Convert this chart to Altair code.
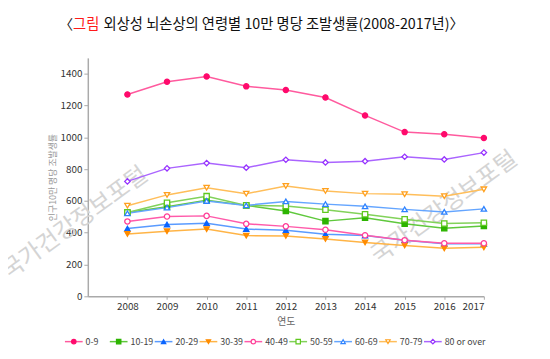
import altair as alt
import pandas as pd

years = list(range(2008, 2018))
series = ["0-9", "10-19", "20-29", "30-39", "40-49", "50-59", "60-69", "70-79", "80 or over"]
v0_9 = [1270, 1350, 1383, 1321, 1298, 1251, 1138, 1033, 1020, 996]
v10_19 = [527, 564, 605, 572, 537, 473, 494, 456, 428, 442]
v20_29 = [426, 452, 460, 423, 415, 390, 382, 353, 330, 330]
v30_39 = [392, 409, 423, 382, 380, 361, 339, 320, 302, 308]
v40_49 = [471, 502, 506, 456, 440, 419, 384, 353, 334, 334]
v50_59 = [527, 589, 630, 572, 568, 545, 516, 485, 458, 463]
v60_69 = [522, 558, 600, 572, 597, 580, 566, 547, 531, 550]
v70_79 = [570, 638, 683, 646, 694, 663, 646, 642, 630, 673]
v80 = [723, 805, 838, 809, 859, 842, 850, 878, 861, 904]
values = [v0_9, v10_19, v20_29, v30_39, v40_49, v50_59, v60_69, v70_79, v80]

marker_colors = ["#FF0A6C", "#2DB400", "#0A64FF", "#FF8C00", "#FF3C96",
                 "#5FC81E", "#2D82FF", "#FFA01E", "#9632FF"]
line_colors = ["#FF5A9E", "#5FC83C", "#5A9BFF", "#FFB446", "#FF5AAA",
               "#82D25A", "#64A5FF", "#FFBE5A", "#AA64FF"]
fill_colors = ["#FF0A6C", "#2DB400", "#0A64FF", "#FF8C00",
               "white", "white", "white", "white", "white"]
shapes = ["circle", "square", "triangle-up", "triangle-down", "circle",
          "square", "triangle-up", "triangle-down", "diamond"]
sizes = [28, 30, 36, 36, 44, 40, 44, 44, 44]

title_left = "〈"
title_red = "그림"
title_rest = "외상성 뇌손상의 연령별 10만 명당 조발생률(2008-2017년)〉"
y_title = "인구10만 명당 조발생률"
x_title = "연도"
watermark = "국가건강정보포털"

rows = []
for s, vals in zip(series, values):
    for yr, v in zip(years, vals):
        rows.append({"series": s, "year": yr, "value": v})
df = pd.DataFrame(rows)
leg = pd.DataFrame({"series": series})

FONT = "Noto Sans CJK KR"

x_scale = alt.Scale(domain=[2007, 2017], nice=False, zero=False)
x_enc = alt.X("year:Q", scale=x_scale,
              axis=alt.Axis(values=years, format="d", title=x_title, grid=False,
                            domainColor="#aaaaaa", domainWidth=1.5, tickColor="#aaaaaa",
                            tickSize=3, labelFontSize=10, labelColor="#333333", labelFont=FONT,
                            labelPadding=2, titleFont=FONT, titleFontSize=10,
                            titleFontWeight="normal", titleColor="#666666", titlePadding=6))
x_plain = alt.X("year:Q", scale=x_scale, axis=None)
y_axis = alt.Axis(values=list(range(0, 1401, 200)), format="d", title=y_title, grid=False,
                  domainColor="#aaaaaa", domainWidth=1.5, tickColor="#aaaaaa",
                  tickSize=4, labelFontSize=10, labelColor="#333333", labelFont=FONT,
                  labelPadding=2, titleFont=FONT, titleFontSize=9,
                  titleFontWeight="normal", titleColor="#999999", titlePadding=3)
y_enc = alt.Y("value:Q", scale=alt.Scale(domain=[0, 1500], nice=False), axis=y_axis)

color_s = alt.Color("series:N", scale=alt.Scale(domain=series, range=line_colors), legend=None)
stroke_s = alt.Stroke("series:N", scale=alt.Scale(domain=series, range=marker_colors), legend=None)
fill_s = alt.Fill("series:N", scale=alt.Scale(domain=series, range=fill_colors), legend=None)
shape_s = alt.Shape("series:N", scale=alt.Scale(domain=series, range=shapes), legend=None)
size_s = alt.Size("series:N", scale=alt.Scale(domain=series, range=sizes), legend=None)

wm1 = alt.Chart(pd.DataFrame({"t": [watermark]})).mark_text(
    font=FONT, fontSize=24, color="#d4d4d4", angle=324, align="center", baseline="middle"
).encode(text="t:N", x=alt.value(-13), y=alt.value(168))
wm2 = alt.Chart(pd.DataFrame({"t": [watermark]})).mark_text(
    font=FONT, fontSize=24, color="#d4d4d4", angle=324, align="center", baseline="middle"
).encode(text="t:N", x=alt.value(362), y=alt.value(152))

lines = alt.Chart(df).mark_line(strokeWidth=1.5).encode(
    x=x_enc, y=y_enc, color=color_s, detail="series:N")
points = alt.Chart(df).mark_point(filled=False, strokeWidth=1.3, opacity=1).encode(
    x=x_plain, y=y_enc, stroke=stroke_s, fill=fill_s, shape=shape_s, size=size_s)

leg_x = alt.X("series:N", scale=alt.Scale(type="point", domain=series, range=[-37, 373]), axis=None)
leg_rule = alt.Chart(leg).mark_rule(strokeWidth=1.5, xOffset=-9, x2Offset=9).encode(
    x=leg_x, x2="series:N", y=alt.value(288), color=color_s)
leg_pts = alt.Chart(leg).mark_point(filled=False, strokeWidth=1.2, opacity=1, size=20).encode(
    x=leg_x, y=alt.value(288), stroke=stroke_s, fill=fill_s, shape=shape_s)
leg_txt = alt.Chart(leg).mark_text(align="left", baseline="middle", dx=12, font=FONT,
                                   fontSize=9, color="#444444").encode(
    x=leg_x, y=alt.value(288), text="series:N")

t1 = alt.Chart(pd.DataFrame({"t": [title_left]})).mark_text(
    font=FONT, fontSize=14, color="#111111", align="right", baseline="middle"
).encode(text="t:N", x=alt.value(-15), y=alt.value(-33))
t2 = alt.Chart(pd.DataFrame({"t": [title_red]})).mark_text(
    font=FONT, fontSize=14.5, color="#FF1A1A", align="left", baseline="middle"
).encode(text="t:N", x=alt.value(-15), y=alt.value(-33))
t3 = alt.Chart(pd.DataFrame({"t": [title_rest]})).mark_text(
    font=FONT, fontSize=14.5, color="#111111", align="left", baseline="middle"
).encode(text="t:N", x=alt.value(16), y=alt.value(-33))

chart = alt.layer(wm1, wm2, lines, points, leg_rule, leg_pts, leg_txt, t1, t2, t3).resolve_scale(
    x="independent"
).properties(
    width=402, height=242,
    padding={"left": 81, "top": 48, "right": 59, "bottom": 61},
    autosize=alt.AutoSizeParams(type="none"),
).configure_view(stroke=None)

chart.save("out.html", embed_options={"renderer": "svg", "actions": False})
